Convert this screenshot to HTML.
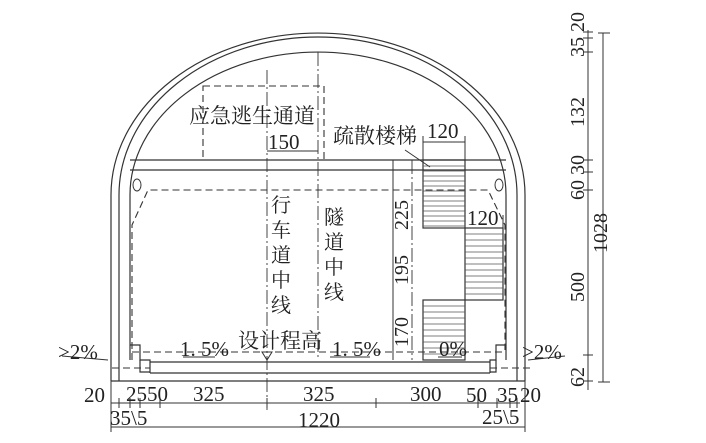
<!DOCTYPE html>
<html><head><meta charset="utf-8"><style>
html,body{margin:0;padding:0;background:#fff;}
svg{display:block;}
text{font-family:"Liberation Serif","Noto Serif CJK SC","Noto Sans CJK SC",serif;fill:#222;}
</style></head><body>
<svg width="706" height="443" viewBox="0 0 706 443" xmlns="http://www.w3.org/2000/svg">
<g stroke="#333" fill="none" stroke-width="1.2">
<path d="M111,381 L111,195 A207,162 0 0 1 525,195 L525,381"/>
<path d="M119,381 L119,195 A199,158 0 0 1 517,195 L517,381"/>
<path d="M130,360 L130,195 A188,143 0 0 1 506,195 L506,360"/>
<line x1="111" y1="381" x2="525" y2="381"/>
<line x1="150" y1="362" x2="490" y2="362"/>
<line x1="150" y1="373" x2="490" y2="373"/>
<path d="M130,345 L140,345 L140,360 L150,360 L150,373 M506,345 L496,345 L496,360 L490,360 L490,373"/>
<path d="M140,360 L140,372 L150,372 M496,360 L496,372 L490,372"/>
<line x1="130" y1="160" x2="506" y2="160"/>
<line x1="130" y1="170" x2="506" y2="170"/>
<rect x="423" y="160" width="42" height="68"/>
<rect x="465" y="228" width="38" height="72"/>
<rect x="423" y="300" width="42" height="60"/>
</g>
<g stroke="#555" stroke-width="0.8">
<path d="M423,166h42M423,171h42M423,176h42M423,181h42M423,186h42M423,191h42M423,196h42M423,201h42M423,206h42M423,211h42M423,216h42M423,221h42M423,226h42"/>
<path d="M465,234h38M465,240h38M465,246h38M465,252h38M465,258h38M465,264h38M465,270h38M465,276h38M465,282h38M465,288h38M465,294h38"/>
<path d="M423,306h42M423,312h42M423,318h42M423,324h42M423,330h42M423,336h42M423,342h42M423,348h42M423,354h42"/>
</g>
<g stroke="#333" fill="none" stroke-width="1.1" stroke-dasharray="7,4">
<rect x="203" y="86" width="121" height="74"/>
<path d="M132,360 L132,225 L148,190 L488,190 L505,225 L505,350"/>
<line x1="132" y1="352" x2="505" y2="352"/>
<line x1="112" y1="368" x2="150" y2="368"/>
<line x1="490" y1="368" x2="530" y2="368"/>
</g>
<g stroke="#333" fill="none" stroke-width="0.9" stroke-dasharray="14,3,2,3">
<line x1="267" y1="70" x2="267" y2="410"/>
<line x1="318" y1="52" x2="318" y2="360"/>
<line x1="412" y1="160" x2="412" y2="360"/>
</g>
<ellipse cx="137" cy="185" rx="4" ry="6" stroke="#333" fill="none"/>
<ellipse cx="499" cy="185" rx="4" ry="6" stroke="#333" fill="none"/>
<g stroke="#333" stroke-width="1">
<line x1="267" y1="151" x2="318" y2="151"/>
<line x1="423" y1="142" x2="465" y2="142"/><line x1="423" y1="136" x2="423" y2="160"/><line x1="465" y1="136" x2="465" y2="160"/>
<line x1="465" y1="228" x2="503" y2="228"/><line x1="503" y1="215" x2="503" y2="228"/>
<line x1="405" y1="150" x2="430" y2="167"/>
<line x1="393" y1="160" x2="393" y2="360"/>
<line x1="588" y1="30" x2="588" y2="390"/>
<line x1="603" y1="33" x2="603" y2="382"/>
<line x1="598" y1="33" x2="610" y2="33"/><line x1="598" y1="382" x2="610" y2="382"/>
<path d="M583,32h10M583,38h10M583,52h10M583,160h10M583,172h10M583,190h10M583,355h10M583,381h10"/>
<line x1="111" y1="403" x2="520" y2="403"/>
<line x1="111" y1="427" x2="525" y2="427"/>
<line x1="111" y1="381" x2="111" y2="432"/><line x1="525" y1="381" x2="525" y2="432"/>
<path d="M119,398v10M130,398v10M140,398v10M160,398v10M267,398v10M376,398v10M478,398v10M497,398v10M510,398v10M517,398v10"/>
<line x1="62" y1="356" x2="108" y2="360"/><line x1="528" y1="360" x2="565" y2="356"/>
<line x1="183" y1="357" x2="215" y2="357"/><line x1="330" y1="357" x2="370" y2="357"/><line x1="438" y1="357" x2="462" y2="357"/>
</g>
<polygon points="262,352 272,352 267,360" fill="none" stroke="#333"/>
<g font-size="21">
<text x="189" y="123">应急逃生通道</text>
<text x="333" y="143">疏散楼梯</text>
<text x="238" y="348">设计程高</text>
</g>
<g font-size="20">
<text x="271" y="212">行</text><text x="271" y="237">车</text><text x="271" y="262">道</text><text x="271" y="287">中</text><text x="271" y="312">线</text>
<text x="324" y="224">隧</text><text x="324" y="249">道</text><text x="324" y="274">中</text><text x="324" y="299">线</text>
</g>
<g font-size="21">
<text x="268" y="149">150</text>
<text x="427" y="138">120</text>
<text x="467" y="225">120</text>
<text x="180" y="356">1. 5%</text>
<text x="332" y="356">1. 5%</text>
<text x="439" y="356">0%</text>
<text x="58" y="359">&gt;2%</text>
<text x="522" y="359">&gt;2%</text>
<text x="84" y="402">20</text>
<text x="126" y="401">2550</text>
<text x="193" y="401">325</text>
<text x="303" y="401">325</text>
<text x="410" y="401">300</text>
<text x="466" y="402">50</text><text x="497" y="402">35</text><text x="520" y="402">20</text>
<text x="110" y="425">35\5</text>
<text x="298" y="427">1220</text>
<text x="482" y="424">25\5</text>
</g>
<g font-size="20">
<text transform="translate(584,57) rotate(-90)">35 20</text>
<text transform="translate(584,127) rotate(-90)">132</text>
<text transform="translate(584,200) rotate(-90)">60 30</text>
<text transform="translate(607,253) rotate(-90)">1028</text>
<text transform="translate(584,302) rotate(-90)">500</text>
<text transform="translate(584,387) rotate(-90)">62</text>
<text transform="translate(408,230) rotate(-90)">225</text>
<text transform="translate(408,285) rotate(-90)">195</text>
<text transform="translate(408,347) rotate(-90)">170</text>
</g>
</svg>
</body></html>
